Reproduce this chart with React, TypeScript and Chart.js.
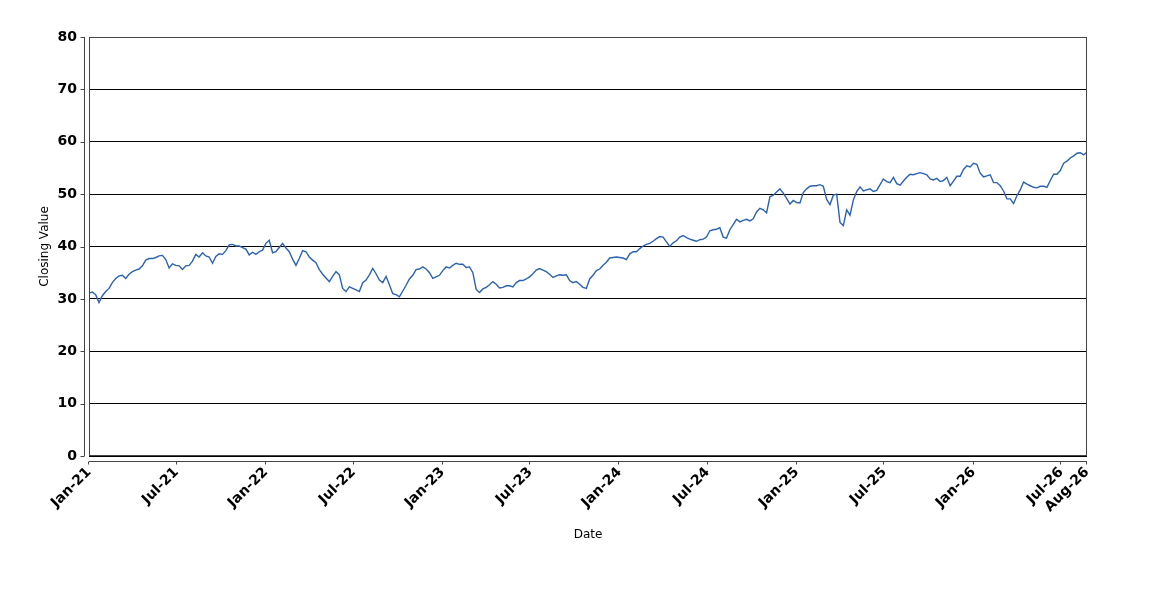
import React, { useEffect, useRef } from 'react';
import { Chart, registerables } from 'chart.js';

Chart.register(...registerables);

// x-axis ticks: first of month (last one is the end of the axis)
const tickDates = [
    '2021-01-01', '2021-07-01', '2022-01-01', '2022-07-01', '2023-01-01', '2023-07-01',
    '2024-01-01', '2024-07-01', '2025-01-01', '2025-07-01', '2026-01-01', '2026-07-01', '2026-08-23'
];
const tickLabels = [
    'Jan-21', 'Jul-21', 'Jan-22', 'Jul-22', 'Jan-23', 'Jul-23',
    'Jan-24', 'Jul-24', 'Jan-25', 'Jul-25', 'Jan-26', 'Jul-26', 'Aug-26'
];

const startDate = '2021-01-01';
const endDate = '2026-08-23';

const closeJan21Sep21 = [
    31.1, 31.3, 30.8, 29.3, 30.6, 31.4, 32.0, 33.1, 33.9, 34.4, 34.5, 33.9, 34.7, 35.2, 35.5, 35.7,
    36.3, 37.4, 37.7, 37.7, 37.9, 38.2, 38.3, 37.5, 35.9, 36.7, 36.4, 36.3, 35.6, 36.3, 36.4, 37.2,
    38.5, 38.0, 38.8, 38.2, 38.0
];
const closeSep21May22 = [
    36.8, 38.1, 38.6, 38.5, 39.2, 40.3, 40.4, 40.1, 40.1, 39.8, 39.5, 38.4, 38.9, 38.5, 39.0, 39.3,
    40.6, 41.2, 38.8, 39.0, 39.8, 40.6, 39.7, 39.0, 37.6, 36.4, 37.7, 39.2, 39.0, 38.0, 37.4, 36.9,
    35.6, 34.7, 34.0, 33.3, 34.3
];
const closeMay22Feb23 = [
    35.2, 34.6, 32.0, 31.4, 32.3, 32.0, 31.7, 31.4, 33.1, 33.6, 34.6, 35.8, 34.8, 33.6, 33.1, 34.3,
    32.7, 31.0, 30.8, 30.4, 31.5, 32.6, 33.8, 34.5, 35.6, 35.7, 36.1, 35.7, 35.0, 33.9, 34.2, 34.5,
    35.4, 36.1, 35.9, 36.4, 36.8, 36.6
];
const closeFeb23Oct23 = [
    36.6, 36.0, 36.1, 35.0, 31.8, 31.2, 31.9, 32.2, 32.7, 33.3, 32.8, 32.1, 32.2, 32.5, 32.5, 32.3,
    33.1, 33.5, 33.5, 33.8, 34.2, 34.8, 35.5, 35.8, 35.5, 35.2, 34.7, 34.1, 34.4, 34.6, 34.5, 34.6,
    33.5, 33.1, 33.3, 32.8, 32.2
];
const closeOct23Jul24 = [
    32.0, 33.8, 34.5, 35.4, 35.7, 36.4, 37.0, 37.8, 37.9, 38.0, 37.9, 37.8, 37.5, 38.6, 39.0, 39.0,
    39.6, 40.1, 40.4, 40.6, 41.0, 41.5, 41.9, 41.8, 40.9, 40.0, 40.7, 41.1, 41.8, 42.1, 41.7, 41.4,
    41.2, 41.0, 41.3, 41.4, 41.8, 43.0
];
const closeJul24Mar25 = [
    43.2, 43.3, 43.6, 41.8, 41.6, 43.2, 44.2, 45.2, 44.7, 45.0, 45.2, 44.9, 45.3, 46.6, 47.3, 47.0,
    46.4, 49.5, 49.8, 50.4, 51.0, 50.2, 49.2, 48.1, 48.8, 48.4, 48.3, 50.3, 51.0, 51.5, 51.6, 51.6,
    51.8, 51.5, 49.0, 48.0, 49.8
];
const closeApr25Dec25 = [
    50.0, 44.6, 44.0, 47.0, 46.0, 48.9, 50.5, 51.4, 50.6, 50.8, 51.0, 50.5, 50.7, 51.8, 52.9, 52.4,
    52.2, 53.2, 52.0, 51.7, 52.5, 53.2, 53.8, 53.7, 53.9, 54.1, 53.9, 53.7, 52.9, 52.7, 53.0, 52.4,
    52.6, 53.2, 51.6, 52.5, 53.4, 53.4
];
const closeDec25Aug26 = [
    54.7, 55.4, 55.2, 55.9, 55.7, 54.0, 53.3, 53.5, 53.7, 52.2, 52.2, 51.6, 50.6, 49.1, 49.1, 48.2,
    49.7, 50.8, 52.3, 51.9, 51.6, 51.3, 51.2, 51.5, 51.5, 51.3, 52.6, 53.8, 53.8, 54.5, 55.9, 56.3,
    56.9, 57.3, 57.8, 57.9, 57.5, 58.0
];

const closingValues = [
    ...closeJan21Sep21, ...closeSep21May22, ...closeMay22Feb23, ...closeFeb23Oct23,
    ...closeOct23Jul24, ...closeJul24Mar25, ...closeApr25Dec25, ...closeDec25Aug26
];

const DAY = 86400000;
const dayOf = (d: string) => Math.round((Date.parse(d) - Date.parse(startDate)) / DAY);
const lastDay = dayOf(endDate);
const tickDays = tickDates.map(dayOf);

// plot frame and the detached axis lines
const framePlugin = {
    id: 'frame',
    afterDatasetsDraw(chart: Chart) {
        const { ctx, chartArea: a, scales } = chart;
        ctx.save();
        ctx.strokeStyle = '#444';
        ctx.lineWidth = 1;
        ctx.strokeRect(Math.round(a.left) + 0.5, Math.round(a.top) + 0.5,
            Math.round(a.right - a.left) - 1, Math.round(a.bottom - a.top) - 1);

        const ax = Math.round(a.left) - 4.5;
        ctx.beginPath();
        ctx.moveTo(ax, a.top);
        ctx.lineTo(ax, a.bottom);
        scales.y.ticks.forEach((t) => {
            const py = Math.round(scales.y.getPixelForValue(t.value)) + 0.5;
            ctx.moveTo(ax - 4, py);
            ctx.lineTo(ax, py);
        });
        const ay = Math.round(a.bottom) + 5.5;
        ctx.moveTo(a.left, ay);
        ctx.lineTo(a.right, ay);
        scales.x.ticks.forEach((t) => {
            const px = Math.round(scales.x.getPixelForValue(t.value)) - 0.5;
            ctx.moveTo(px, ay);
            ctx.lineTo(px, ay + 3);
        });
        ctx.stroke();
        ctx.restore();
    }
};

export default function App() {
    const canvasRef = useRef<HTMLCanvasElement>(null);
    const chartRef = useRef<Chart | null>(null);

    useEffect(() => {
        if (!canvasRef.current) return;
        if (chartRef.current) chartRef.current.destroy();
        const ctx = canvasRef.current.getContext('2d');
        if (!ctx) return;

        const step = lastDay / (closingValues.length - 1);

        chartRef.current = new Chart(ctx, {
            type: 'line',
            data: {
                datasets: [
                    {
                        label: 'Closing Value',
                        data: closingValues.map((v, i) => ({ x: i * step, y: v })),
                        borderColor: '#2b63b0',
                        borderWidth: 1.4,
                        pointRadius: 0,
                        tension: 0,
                        fill: false
                    }
                ]
            },
            options: {
                responsive: false,
                animation: false,
                layout: {
                    padding: { left: 34, top: 37, right: 63, bottom: 54 }
                },
                plugins: {
                    legend: { display: false },
                    tooltip: { enabled: false }
                },
                scales: {
                    x: {
                        type: 'linear',
                        min: 0,
                        max: lastDay,
                        afterBuildTicks: (scale: any) => {
                            scale.ticks = tickDays.map((d) => ({ value: d }));
                        },
                        afterFit: (scale: any) => {
                            scale.height = 90;
                        },
                        grid: { display: false, drawTicks: false },
                        border: { display: false },
                        ticks: {
                            autoSkip: false,
                            minRotation: 45,
                            maxRotation: 45,
                            padding: 8,
                            color: '#000',
                            font: { family: 'DejaVu Sans', size: 14, weight: 'bold' },
                            callback: (_v: any, i: number) => tickLabels[i]
                        },
                        title: {
                            display: true,
                            text: 'Date',
                            color: '#000',
                            font: { family: 'DejaVu Sans', size: 12 }
                        }
                    },
                    y: {
                        min: 0,
                        max: 80,
                        afterFit: (scale: any) => {
                            scale.width = 55;
                        },
                        grid: { color: '#000', lineWidth: 1, drawTicks: false },
                        border: { display: false },
                        ticks: {
                            stepSize: 10,
                            padding: 12,
                            color: '#000',
                            font: { family: 'DejaVu Sans', size: 14, weight: 'bold' }
                        },
                        title: {
                            display: true,
                            text: 'Closing Value',
                            color: '#000',
                            font: { family: 'DejaVu Sans', size: 12 }
                        }
                    }
                }
            },
            plugins: [framePlugin]
        });

        return () => {
            if (chartRef.current) {
                chartRef.current.destroy();
                chartRef.current = null;
            }
        };
    }, []);

    return (
        <div style={{ position: 'absolute', left: 0, top: 0, width: 1150, height: 600, background: '#fff' }}>
            <canvas ref={canvasRef} width={1150} height={600} />
        </div>
    );
}
